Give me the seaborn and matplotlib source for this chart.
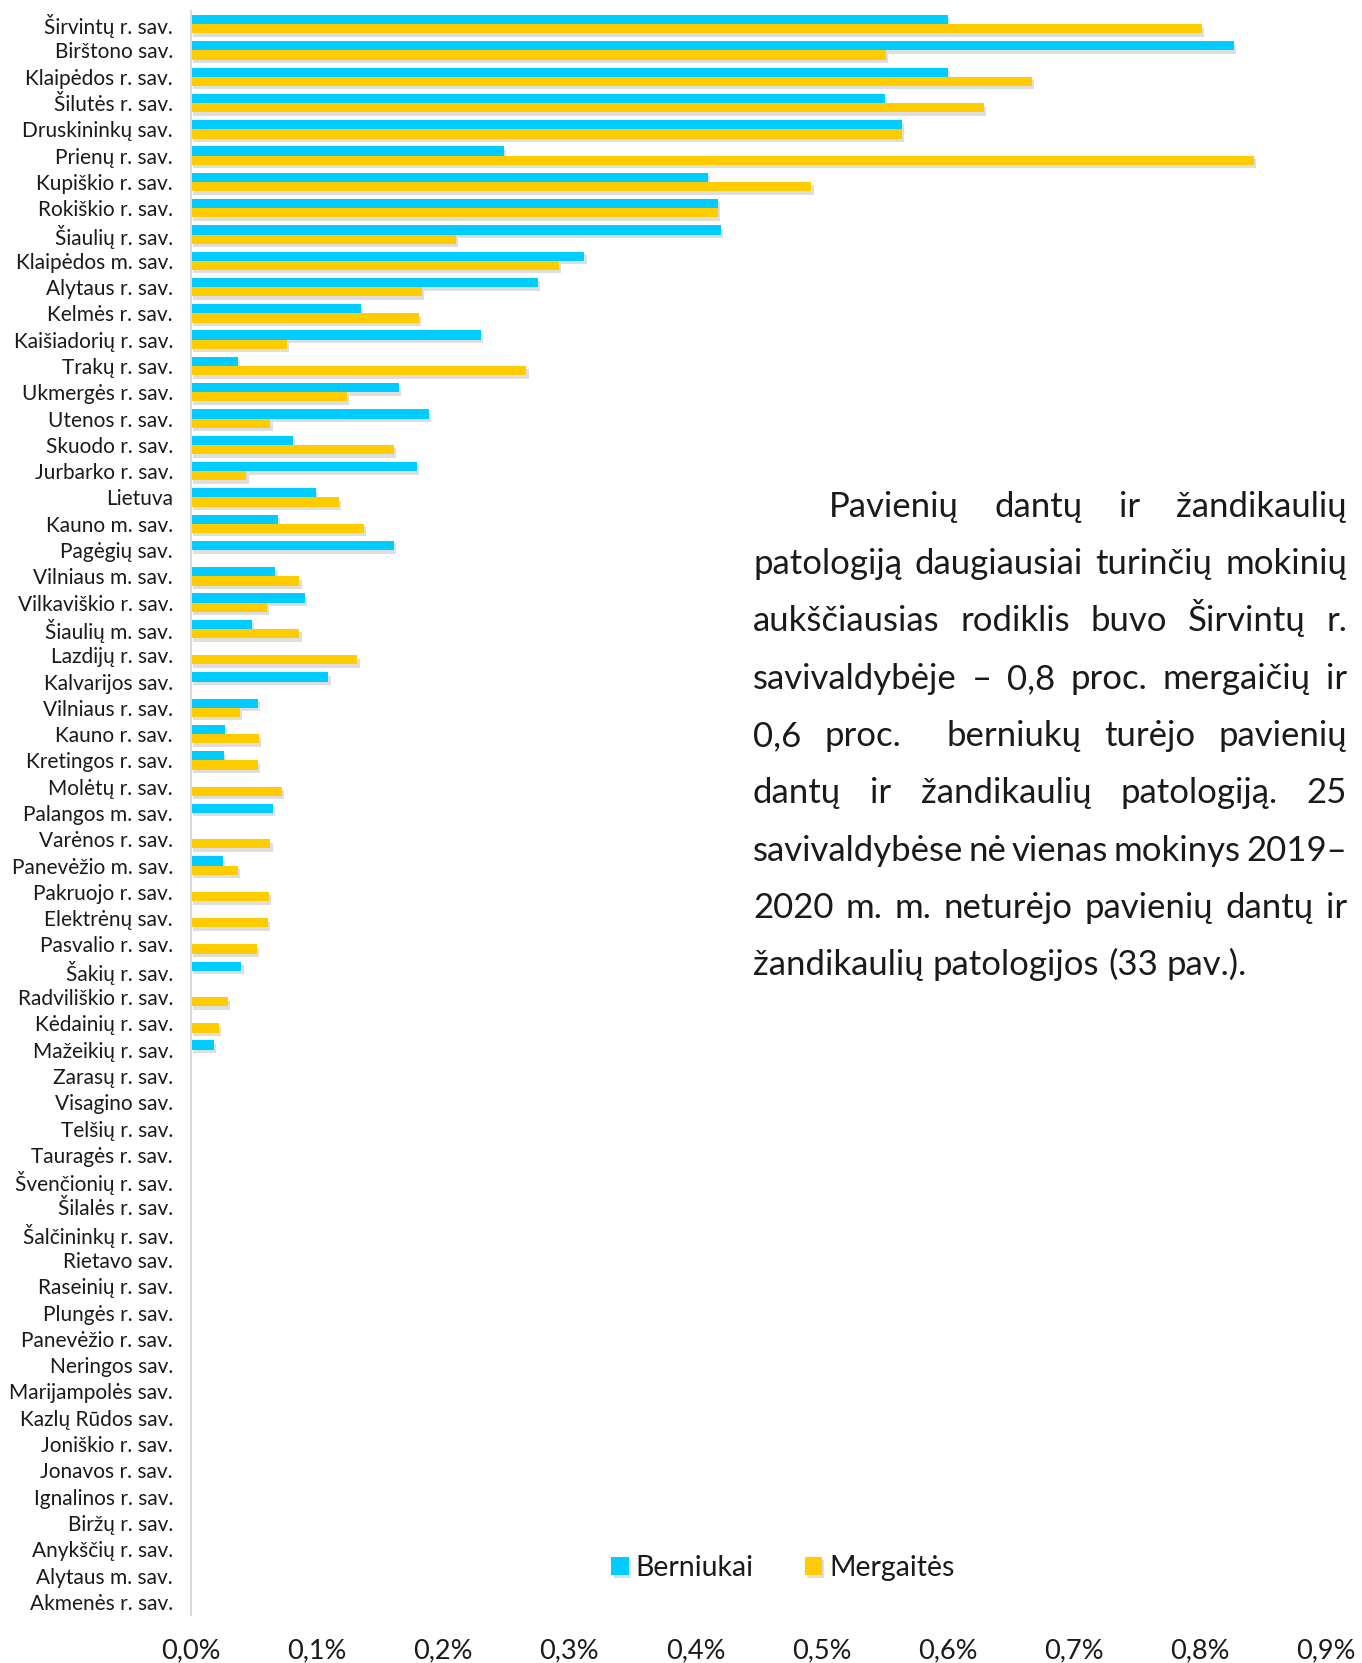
import numpy as np
import pandas as pd
import seaborn as sns
import matplotlib.pyplot as plt
import matplotlib.patheffects as pe
from matplotlib.ticker import FuncFormatter
from matplotlib.transforms import IdentityTransform

# duomenys (proc.)
savivaldybes = [
    'Širvintų r. sav.', 'Birštono sav.', 'Klaipėdos r. sav.', 'Šilutės r. sav.',
    'Druskininkų sav.', 'Prienų r. sav.', 'Kupiškio r. sav.', 'Rokiškio r. sav.',
    'Šiaulių r. sav.', 'Klaipėdos m. sav.', 'Alytaus r. sav.', 'Kelmės r. sav.',
    'Kaišiadorių r. sav.', 'Trakų r. sav.', 'Ukmergės r. sav.', 'Utenos r. sav.',
    'Skuodo r. sav.', 'Jurbarko r. sav.', 'Lietuva', 'Kauno m. sav.',
    'Pagėgių sav.', 'Vilniaus m. sav.', 'Vilkaviškio r. sav.', 'Šiaulių m. sav.',
    'Lazdijų r. sav.', 'Kalvarijos sav.', 'Vilniaus r. sav.', 'Kauno r. sav.',
    'Kretingos r. sav.', 'Molėtų r. sav.', 'Palangos m. sav.', 'Varėnos r. sav.',
    'Panevėžio m. sav.', 'Pakruojo r. sav.', 'Elektrėnų sav.', 'Pasvalio r. sav.',
    'Šakių r. sav.', 'Radviliškio r. sav.', 'Kėdainių r. sav.', 'Mažeikių r. sav.',
    'Zarasų r. sav.', 'Visagino sav.', 'Telšių r. sav.', 'Tauragės r. sav.',
    'Švenčionių r. sav.', 'Šilalės r. sav.', 'Šalčininkų r. sav.', 'Rietavo sav.',
    'Raseinių r. sav.', 'Plungės r. sav.', 'Panevėžio r. sav.', 'Neringos sav.',
    'Marijampolės sav.', 'Kazlų Rūdos sav.', 'Joniškio r. sav.', 'Jonavos r. sav.',
    'Ignalinos r. sav.', 'Biržų r. sav.', 'Anykščių r. sav.', 'Alytaus m. sav.',
    'Akmenės r. sav.']

berniukai = [
    0.600, 0.827, 0.600, 0.550, 0.564, 0.248, 0.410, 0.418, 0.420, 0.312,
    0.275, 0.135, 0.230, 0.037, 0.165, 0.189, 0.081, 0.179, 0.099, 0.069,
    0.161, 0.067, 0.090, 0.048, 0.0, 0.109, 0.053, 0.027, 0.026, 0.0,
    0.065, 0.0, 0.025, 0.0, 0.0, 0.0, 0.040, 0.0, 0.0, 0.018,
    0, 0, 0, 0, 0, 0, 0, 0, 0, 0, 0, 0, 0, 0, 0, 0, 0, 0, 0, 0, 0]

mergaites = [
    0.802, 0.551, 0.667, 0.629, 0.564, 0.843, 0.492, 0.418, 0.210, 0.292,
    0.183, 0.181, 0.076, 0.266, 0.124, 0.063, 0.161, 0.044, 0.117, 0.137,
    0.0, 0.086, 0.060, 0.086, 0.132, 0.0, 0.039, 0.054, 0.053, 0.072,
    0.0, 0.063, 0.037, 0.062, 0.061, 0.052, 0.0, 0.029, 0.022, 0.0,
    0, 0, 0, 0, 0, 0, 0, 0, 0, 0, 0, 0, 0, 0, 0, 0, 0, 0, 0, 0, 0]

lytys = ['Berniukai', 'Mergaitės']
spalvos = ['#00CCFF', '#FFCC00']
xticks = [0.0, 0.1, 0.2, 0.3, 0.4, 0.5, 0.6, 0.7, 0.8, 0.9]

tekstas = [
    'Pavienių dantų ir žandikaulių',
    'patologiją daugiausiai turinčių mokinių',
    'aukščiausias rodiklis buvo Širvintų r.',
    'savivaldybėje – 0,8 proc. mergaičių ir',
    '0,6 proc.  berniukų turėjo pavienių',
    'dantų ir žandikaulių patologiją. 25',
    'savivaldybėse nė vienas mokinys 2019–',
    '2020 m. m. neturėjo pavienių dantų ir',
    'žandikaulių patologijos (33 pav.).',
]

n = len(savivaldybes)
df = pd.DataFrame({
    'sav': savivaldybes * 2,
    'lytis': [lytys[0]] * n + [lytys[1]] * n,
    'proc': berniukai + mergaites,
})

sns.set_theme(style='white')
plt.rcParams['font.family'] = ['Lato', 'DejaVu Sans']
txt_color = '#1a1a1a'

W, H = 1362, 1663
fig = plt.figure(figsize=(W / 100, H / 100), dpi=100)
ax = fig.add_axes([191 / W, 1 - 1615 / H, (1326 - 191) / W, (1615 - 11) / H])

sns.barplot(data=df, y='sav', x='proc', hue='lytis', hue_order=lytys,
            palette=spalvos, orient='h', width=0.7, linewidth=0,
            saturation=1, ax=ax)

shadow = [pe.SimplePatchShadow(offset=(1.5, -2.5), shadow_rgbFace='#7f7f7f', alpha=0.25),
          pe.Normal()]
for p in ax.patches:
    p.set_path_effects(shadow)

ax.set_xlim(0, 0.9)
ax.set_xticks(xticks)
ax.xaxis.set_major_formatter(FuncFormatter(lambda v, _: f'{v:.1f}%'.replace('.', ',')))
ax.set_xlabel('')
ax.set_ylabel('')
ax.tick_params(axis='x', length=0, pad=17, labelsize=19.5, labelcolor=txt_color)
ax.tick_params(axis='y', length=0, pad=13, labelsize=15, labelcolor=txt_color)
for s in ['top', 'right', 'bottom']:
    ax.spines[s].set_visible(False)
ax.spines['left'].set_color('#d9d9d9')
ax.spines['left'].set_linewidth(1.5)
ax.grid(False)

handles, labels = ax.get_legend_handles_labels()
ax.legend(handles, labels, loc='center', ncol=2, frameon=False, fontsize=20.5,
          handlelength=0.6, handleheight=0.6, handletextpad=0.25, columnspacing=1.8,
          labelcolor=txt_color,
          bbox_to_anchor=(783 / W, 1 - 1568 / H), bbox_transform=fig.transFigure)

# teksto blokas, išlygintas abiem pusėm
fig.canvas.draw()
renderer = fig.canvas.get_renderer()
left, right, indent = 753, 1347, 829
line_y = [517, 574, 631, 689, 746, 803, 861, 918, 975]
tmp = fig.text(0, 0, 'a a', fontsize=25, transform=IdentityTransform())
tmp2 = fig.text(0, 0, 'aa', fontsize=25, transform=IdentityTransform())
space_w = tmp.get_window_extent(renderer).width - tmp2.get_window_extent(renderer).width
tmp.remove()
tmp2.remove()
for i, line in enumerate(tekstas):
    words, gaps, pending = [], [], 0
    for t in line.split(' '):
        if t == '':
            pending += 1
        else:
            if words:
                gaps.append(1 + pending)
            pending = 0
            words.append(t)
    yb = H - line_y[i]
    arts = [fig.text(0, yb, w, fontsize=25, color=txt_color, va='baseline',
                     transform=IdentityTransform()) for w in words]
    widths = [a.get_window_extent(renderer).width for a in arts]
    x0 = indent if i == 0 else left
    if i == len(tekstas) - 1:
        unit = space_w
    else:
        unit = (right - x0 - sum(widths)) / sum(gaps)
    x = x0
    for k, a in enumerate(arts):
        a.set_x(x)
        x += widths[k]
        if k < len(gaps):
            x += gaps[k] * unit

fig.savefig('out.png', dpi=100)
